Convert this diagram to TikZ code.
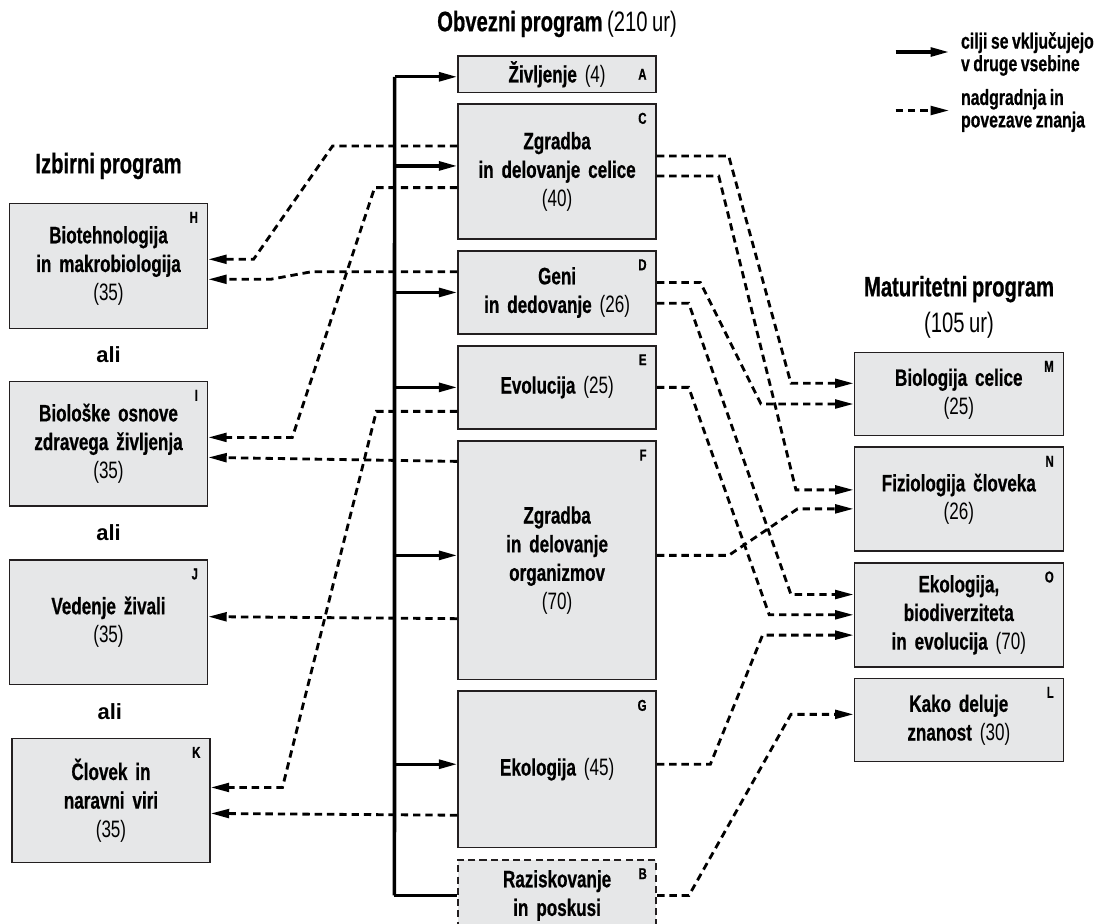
\documentclass[tikz,border=0pt]{standalone}
\usepackage{fontspec}
\setmainfont{Liberation Sans}[FakeStretch=0.72, WordSpace=0.8, BoldFeatures={FakeBold=0.6}]
\newfontfamily\widesans{Liberation Sans}
\usetikzlibrary{positioning, calc}
\usetikzlibrary{arrows.meta}
\definecolor{boxfill}{HTML}{E6E7E8}
\definecolor{boxline}{HTML}{231F20}
\newcommand{\hrs}[1]{{\mdseries(#1)}}
\tikzstyle{topic} = [rectangle, draw=boxline, line width=0.9pt, fill=boxfill,
    text width=3.8cm, align=center, minimum width=3.96cm, inner sep=0pt,
    font=\fontsize{13.5}{16.3}\selectfont\bfseries]
\tikzstyle{optional} = [topic, line width=1.2pt, dash pattern=on 4pt off 2.4pt]
\tikzstyle{tag} = [inner sep=0pt, anchor=north east, font=\fontsize{9}{9}\selectfont\bfseries]
\tikzstyle{heading} = [font=\fontsize{16}{20.4}\selectfont\bfseries, align=center]
\tikzstyle{legend} = [anchor=west, inner sep=0pt, align=left,
    font=\fontsize{12.5}{12.8}\selectfont\bfseries]
\tikzstyle{ortext} = [font=\widesans\fontsize{12.5}{14}\selectfont\bfseries]
\tikzstyle{feed} = [draw, line width=1.9pt, -{Triangle[length=10.5pt,width=5pt]}]
\tikzstyle{link} = [draw, line width=1.6pt, dash pattern=on 4.2pt off 2.8pt,
    -{Triangle[length=10.5pt,width=5pt]}]

\begin{document}
\begin{tikzpicture}[x=0.02cm, y=-0.02cm]
  \useasboundingbox (0,0) rectangle (1101,923);
   % Headings
    \node [heading] (obvezni) at (557,24) {Obvezni program \hrs{210 ur}};
    \node [heading] (izbirni) at (108.5,166) {Izbirni program};
    \node [heading] (maturitetni) at (959,307) {Maturitetni program\\\hrs{105 ur}};
   % Compulsory programme
    \node [topic, minimum height=0.734cm] (A) at (557.1,74.3) {Življenje \hrs{4}};
    \node [topic, below=0.2cm of A, minimum height=2.7cm] (C) {Zgradba\\in delovanje celice\\\hrs{40}};
    \node [topic, below=0.2cm of C, minimum height=1.668cm] (D) {Geni\\in dedovanje \hrs{26}};
    \node [topic, below=0.2cm of D, minimum height=1.666cm] (E) {Evolucija \hrs{25}};
    \node [topic, below=0.21cm of E, minimum height=4.772cm] (F) {Zgradba\\in delovanje\\organizmov\\\hrs{70}};
    \node [topic, below=0.2cm of F, minimum height=3.128cm] (G) {Ekologija \hrs{45}};
    \node [optional, below=0.21cm of G, minimum height=1.42cm] (B) {Raziskovanje\\in poskusi};
   % Elective programme
    \node [topic, minimum height=2.5cm] (H) at (108.5,265.8) {Biotehnologija\\in makrobiologija\\\hrs{35}};
    \node [topic, below=1.03cm of H, minimum height=2.49cm] (I) {Biološke osnove\\zdravega življenja\\\hrs{35}};
    \node [topic, below=1.05cm of I, minimum height=2.49cm] (J) {Vedenje živali\\\hrs{35}};
    \node [topic, below=1.05cm of J, xshift=0.05cm, minimum height=2.48cm] (K) {Človek in\\naravni viri\\\hrs{35}};
    \node [ortext] (ali1) at ($(H.south)!0.5!(I.north)$) {ali};
    \node [ortext] (ali2) at ($(I.south)!0.5!(J.north)$) {ali};
    \node [ortext] (ali3) at ($(J.south)!0.5!(K.north)$) {ali};
   % Matura programme
    \node [topic, minimum width=4.18cm, minimum height=1.668cm] (M) at (958.8,394) {Biologija celice\\\hrs{25}};
    \node [topic, below=0.2cm of M, minimum width=4.18cm, minimum height=2.08cm] (N) {Fiziologija človeka\\\hrs{26}};
    \node [topic, below=0.2cm of N, minimum width=4.18cm, minimum height=2.08cm] (O) {Ekologija,\\biodiverziteta\\in evolucija \hrs{70}};
    \node [topic, below=0.2cm of O, minimum width=4.18cm, minimum height=1.666cm] (L) {Kako deluje\\znanost \hrs{30}};
   % Letters
    \node [tag, anchor=east] (A-tag) at ([xshift=-0.2cm]A.east) {A};
    \foreach \n in {C,D,E,F,G,B,H,I,J,K,M,N,O,L}
      \node [tag] (\n-tag) at ([xshift=-0.2cm,yshift=-0.18cm]\n.north east) {\n};
   % Legend
    \node [legend] (legsolid) at (960.7,54) {cilji se vključujejo\\v druge vsebine};
    \node [legend] (legdash) at (960.7,110.5) {nadgradnja in\\povezave znanja};
    \path [feed] ([xshift=-1.3cm,yshift=0.04cm]legsolid.west) -- ([xshift=-0.234cm,yshift=0.04cm]legsolid.west);
    \path [link] ([xshift=-1.3cm]legdash.west) -- ([xshift=-0.234cm]legdash.west);
   % Trunk
    \coordinate (top) at ([xshift=-1.254cm,yshift=-0.05cm]A.west);
    \coordinate (bottom) at ([xshift=-1.254cm]B.west);
    \draw [line width=2.1pt] (top) -- (bottom);
    \draw [line width=1.4pt] (bottom) -- (B.west);
    \foreach \n/\s in {A/-0.05,C/0.116,D/0,E/0,F/0.1,G/0.104}
      \path [feed] ([xshift=-1.254cm,yshift=\s cm]\n.west) -- ([yshift=\s cm]\n.west);
   % Draw edges to the left
    \path [link] ([yshift=0.516cm]C.west) -- ++(-124.7,0) -- ([xshift=0.906cm,yshift=0.13cm]H.east) -- ([yshift=0.13cm]H.east);
    \path [link] ([yshift=0.414cm]D.west) -- ++(-146,0) -- ([xshift=1.246cm,yshift=-0.27cm]H.east) -- ([yshift=-0.27cm]H.east);
    \path [link] ([yshift=-0.318cm]C.west) -- ++(-82.7,0) -- ([xshift=1.68cm,yshift=0.124cm]I.east) -- ([yshift=0.124cm]I.east);
    \path [link] ([yshift=1.98cm]F.west) -- ([yshift=-0.276cm]I.east);
    \path [link] ([yshift=-0.48cm]E.west) -- ++(-81,0) -- ([xshift=1.434cm,yshift=0.26cm]K.east) -- ([yshift=0.26cm]K.east);
    \path [link] ([yshift=-1.166cm]F.west) -- ([yshift=0.11cm]J.east);
    \path [link] ([yshift=-0.916cm]G.west) -- ([yshift=-0.26cm]K.east);
   % Draw edges to the right
    \path [link] ([yshift=0.316cm]C.east) -- ++(71.8,0) -- ([xshift=-1.252cm,yshift=0.214cm]M.west) -- ([yshift=0.214cm]M.west);
    \path [link] ([yshift=-0.084cm]C.east) -- ++(61.8,0) -- ([xshift=-1.152cm,yshift=0.188cm]N.west) -- ([yshift=0.188cm]N.west);
    \path [link] ([yshift=0.2cm]D.east) -- ++(43.5,0) -- ([xshift=-1.852cm,yshift=-0.2cm]M.west) -- ([yshift=-0.2cm]M.west);
    \path [link] ([yshift=-0.214cm]D.east) -- ++(31.8,0) -- ([xshift=-1.252cm,yshift=0.406cm]O.west) -- ([yshift=0.406cm]O.west);
    \path [link] (E.east) -- ++(31.8,0) -- ([xshift=-1.686cm]O.west) -- (O.west);
    \path [link] ([yshift=0.1cm]F.east) -- ++(71.8,0) -- ([xshift=-1.12cm,yshift=-0.192cm]N.west) -- ([yshift=-0.192cm]N.west);
    \path [link] ([yshift=0.104cm]G.east) -- ++(53.5,0) -- ([xshift=-1.82cm,yshift=-0.406cm]O.west) -- ([yshift=-0.406cm]O.west);
    \path [link] (B.east) -- ++(31.8,0) -- ([xshift=-1.252cm,yshift=0.114cm]L.west) -- ([yshift=0.114cm]L.west);
  \end{tikzpicture}
\end{document}
